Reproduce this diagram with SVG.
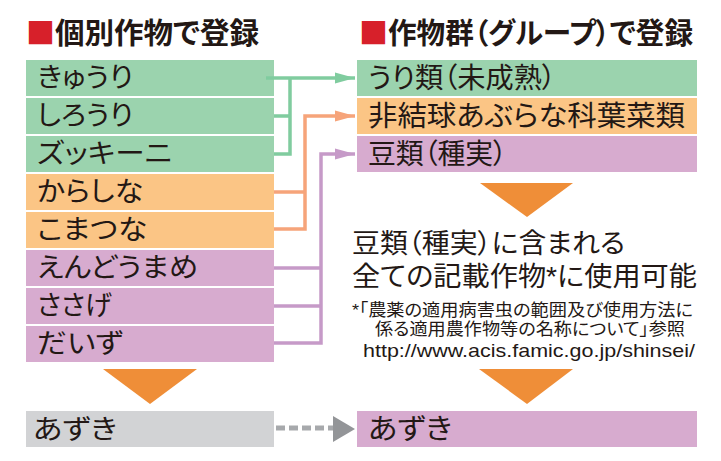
<svg xmlns="http://www.w3.org/2000/svg" width="721" height="461" viewBox="0 0 721 461">
<style>
text{font-family:"Liberation Sans","Noto Sans CJK JP",sans-serif;fill:#231815;font-feature-settings:"palt" 1}
.title{font-size:29px;font-weight:bold}
.red{fill:#d7202a;font-family:"Noto Sans CJK JP",sans-serif;font-feature-settings:normal}
.lab{font-size:27px}
.rlab{font-size:28px}
.big{font-size:27px}
.small{font-size:16.8px}
.url{font-size:18.5px}
.g{fill:#9bd3ae}.o{fill:#fbc585}.p{fill:#d7abcf}.gr{fill:#d2d3d5}
.tri{fill:#ef8e38}
.cg{stroke:#80cc9f;stroke-width:3.5;fill:none}
.co{stroke:#f6a47a;stroke-width:3.5;fill:none}
.cp{stroke:#c69ac8;stroke-width:3.5;fill:none}
.cd{stroke:#a7a9ac;stroke-width:5;fill:none;stroke-dasharray:9 4}
</style>
<defs>
<marker id="ag" markerUnits="userSpaceOnUse" markerWidth="20" markerHeight="12" refX="20" refY="6" orient="auto"><path d="M0,0.5 L20,6 L0,11.5 z" fill="#80cc9f"/></marker>
<marker id="ao" markerUnits="userSpaceOnUse" markerWidth="20" markerHeight="12" refX="20" refY="6" orient="auto"><path d="M0,0.5 L20,6 L0,11.5 z" fill="#f6a47a"/></marker>
<marker id="ap" markerUnits="userSpaceOnUse" markerWidth="20" markerHeight="12" refX="20" refY="6" orient="auto"><path d="M0,0.5 L20,6 L0,11.5 z" fill="#c69ac8"/></marker>
</defs>

<g id="title-left"><text class="title red" x="26" y="44">■</text><text class="title" x="55" y="44" textLength="204" lengthAdjust="spacingAndGlyphs">個別作物で登録</text></g>
<g id="title-right"><text class="title red" x="359" y="44">■</text><text class="title" x="388" y="44" textLength="305" lengthAdjust="spacingAndGlyphs">作物群（グループ）で登録</text></g>

<g id="n-kyuri"><rect class="g" x="26" y="60" width="248" height="36"/><text class="lab" x="37" y="87" textLength="96" lengthAdjust="spacingAndGlyphs">きゅうり</text></g>
<g id="n-shirouri"><rect class="g" x="26" y="98" width="248" height="36"/><text class="lab" x="37" y="125" textLength="96" lengthAdjust="spacingAndGlyphs">しろうり</text></g>
<g id="n-zucchini"><rect class="g" x="26" y="136" width="248" height="36"/><text class="lab" x="37" y="163" textLength="135" lengthAdjust="spacingAndGlyphs">ズッキーニ</text></g>
<g id="n-karashina"><rect class="o" x="26" y="174" width="248" height="36"/><text class="lab" x="37" y="201" textLength="106" lengthAdjust="spacingAndGlyphs">からしな</text></g>
<g id="n-komatsuna"><rect class="o" x="26" y="212" width="248" height="36"/><text class="lab" x="37" y="239" textLength="110" lengthAdjust="spacingAndGlyphs">こまつな</text></g>
<g id="n-endomame"><rect class="p" x="26" y="250" width="248" height="36"/><text class="lab" x="37" y="277" textLength="161" lengthAdjust="spacingAndGlyphs">えんどうまめ</text></g>
<g id="n-sasage"><rect class="p" x="26" y="288" width="248" height="36"/><text class="lab" x="37" y="315" textLength="75" lengthAdjust="spacingAndGlyphs">ささげ</text></g>
<g id="n-daizu"><rect class="p" x="26" y="326" width="248" height="36"/><text class="lab" x="37" y="353" textLength="86" lengthAdjust="spacingAndGlyphs">だいず</text></g>

<g id="n-urirui"><rect class="g" x="357" y="60" width="340" height="36"/><text class="rlab" x="368" y="88" textLength="188" lengthAdjust="spacingAndGlyphs">うり類（未成熟）</text></g>
<g id="n-aburana"><rect class="o" x="357" y="98" width="340" height="36"/><text class="rlab" x="368" y="126" textLength="317" lengthAdjust="spacingAndGlyphs">非結球あぶらな科葉菜類</text></g>
<g id="n-mamerui"><rect class="p" x="357" y="136" width="340" height="36"/><text class="rlab" x="368" y="164" textLength="139" lengthAdjust="spacingAndGlyphs">豆類（種実）</text></g>

<g id="n-note">
<polygon class="tri" points="480,183 573,183 527,217"/>
<text class="big" x="352" y="253" textLength="273" lengthAdjust="spacingAndGlyphs">豆類（種実）に含まれる</text>
<text class="big" x="352" y="286" textLength="345" lengthAdjust="spacingAndGlyphs">全ての記載作物*に使用可能</text>
<text class="small" x="352" y="315.5" textLength="341" lengthAdjust="spacingAndGlyphs">*「農薬の適用病害虫の範囲及び使用方法に</text>
<text class="small" x="375" y="335" textLength="310" lengthAdjust="spacingAndGlyphs">係る適用農作物等の名称について」参照</text>
<text class="url" x="363" y="356.5" textLength="332" lengthAdjust="spacingAndGlyphs">http://www.acis.famic.go.jp/shinsei/</text>
</g>

<g id="tri-left"><polygon class="tri" points="103,369 197,369 150,404"/></g>
<g id="tri-right"><polygon class="tri" points="479,369 573,369 527,404"/></g>

<g id="n-azuki-left"><rect class="gr" x="26" y="411" width="248" height="36"/><text class="lab" x="33" y="439" textLength="84" lengthAdjust="spacingAndGlyphs">あずき</text></g>
<g id="n-azuki-right"><rect class="p" x="357" y="411" width="340" height="36"/><text class="rlab" x="368" y="439" textLength="84" lengthAdjust="spacingAndGlyphs">あずき</text></g>

<g id="connectors">
<path class="cg" d="M266,78 H355" marker-end="url(#ag)"/>
<path class="cg" d="M274,116 H290 M274,154 H290 V78"/>
<path class="co" d="M274,192 H305 M274,229 H305 V116 H355" marker-end="url(#ao)"/>
<path class="cp" d="M274,268 H321 M274,306 H321 M274,343 H321 V154 H355" marker-end="url(#ap)"/>
<path class="cd" d="M276,428 H334"/>
<path d="M333,416 L355,429 L333,442 z" fill="#939598"/>
</g>
</svg>
